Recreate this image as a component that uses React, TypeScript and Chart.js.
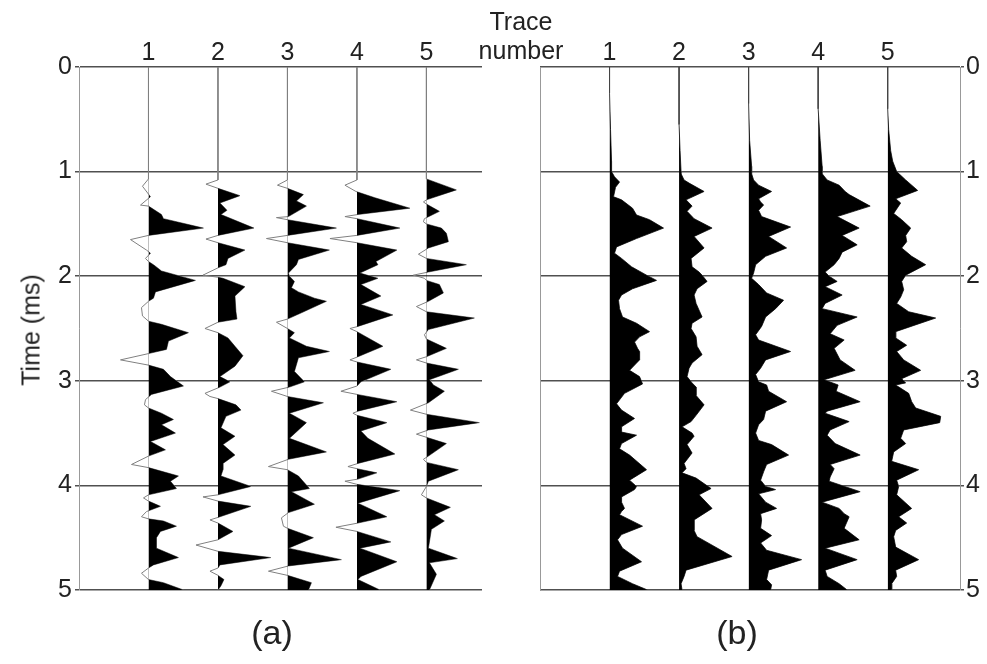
import React, { useEffect, useRef } from 'react';
import { Chart, registerables } from 'chart.js';

// ---------- data ----------
const TRACE_NUMBERS = [1, 2, 3, 4, 5];
const TRACE_LABELS = ['1', '2', '3', '4', '5'];
const TIME_MIN = 0;
const TIME_MAX = 5;
const AMP_PER_TRACE = 69.5; // amplitude units per trace spacing

// Panel (a): raw traces, [time (ms), amplitude]
const A1 = [[0,0],[1.07,0],[1.14,-6],[1.24,2],[1.32,-8],[1.33,0],[1.41,13],[1.45,15],[1.54,55],[1.61,0],[1.65,-18],[1.75,-2],[1.78,2],[1.83,-3],[1.86,0],[1.89,5],[1.95,13],[2.04,47],[2.15,7],[2.21,5],[2.24,0],[2.30,-7],[2.38,-6],[2.43,0],[2.46,13],[2.54,40],[2.62,20],[2.70,18],[2.74,0],[2.80,-28],[2.85,0],[2.89,15],[2.96,22],[3.05,35],[3.13,3],[3.18,-3],[3.23,-4],[3.26,0],[3.31,13],[3.37,25],[3.42,13],[3.50,27],[3.58,2],[3.66,17],[3.72,0],[3.80,-17],[3.83,0],[3.91,30],[3.96,22],[4.03,28],[4.09,0],[4.12,-5],[4.15,0],[4.20,12],[4.25,-2],[4.30,-7],[4.32,0],[4.34,15],[4.39,28],[4.44,12],[4.50,8],[4.60,8],[4.69,30],[4.76,5],[4.79,0],[4.84,-7],[4.90,0],[4.93,15],[5.0,35]];
const A2 = [[0,0],[1.08,0],[1.12,-12],[1.16,0],[1.23,22],[1.30,2],[1.37,9],[1.41,3],[1.54,36],[1.61,0],[1.645,-12],[1.68,0],[1.75,27],[1.83,10],[1.89,8],[1.92,0],[1.99,-15],[2.01,0],[2.02,5],[2.10,27],[2.19,17],[2.34,18],[2.41,19],[2.44,0],[2.50,-13],[2.54,0],[2.59,10],[2.67,17],[2.76,25],[2.86,17],[2.96,2],[3.01,12],[3.06,2],[3.12,-13],[3.15,-8],[3.17,0],[3.23,18],[3.28,23],[3.34,8],[3.45,3],[3.53,17],[3.61,5],[3.71,17],[3.79,5],[3.85,5],[3.91,3],[4.01,33],[4.09,0],[4.11,-15],[4.15,0],[4.20,33],[4.30,2],[4.33,-8],[4.36,0],[4.44,15],[4.52,0],[4.57,-22],[4.63,0],[4.69,53],[4.76,2],[4.79,0],[4.82,-8],[4.86,0],[4.90,6],[4.96,3],[5.0,0]];
const A3 = [[0,0],[1.08,0],[1.13,-10],[1.16,0],[1.22,16],[1.28,9],[1.33,19],[1.43,1],[1.44,-11],[1.46,0],[1.54,49],[1.61,0],[1.64,-21],[1.68,0],[1.75,42],[1.84,11],[1.89,9],[1.97,1],[2.00,2],[2.05,7],[2.11,4],[2.15,11],[2.21,27],[2.24,39],[2.35,14],[2.41,0],[2.44,-11],[2.50,0],[2.54,7],[2.59,2],[2.67,19],[2.72,42],[2.78,11],[2.91,7],[3.01,17],[3.06,2],[3.10,-16],[3.15,0],[3.21,36],[3.31,2],[3.40,19],[3.55,2],[3.68,39],[3.75,1],[3.82,-19],[3.85,0],[3.91,11],[4.03,22],[4.06,4],[4.18,27],[4.26,1],[4.31,-6],[4.39,-4],[4.41,0],[4.50,26],[4.60,1],[4.71,54],[4.77,1],[4.82,-19],[4.86,0],[4.93,24],[5.0,21]];
const A4 = [[0,0],[1.08,0],[1.13,-12],[1.19,-1],[1.25,18],[1.35,53],[1.41,1],[1.43,-12],[1.45,0],[1.54,43],[1.61,0],[1.64,-27],[1.68,0],[1.75,40],[1.86,19],[1.89,21],[1.97,3],[2.02,21],[2.08,4],[2.19,24],[2.27,4],[2.37,36],[2.48,1],[2.50,-7],[2.53,0],[2.67,26],[2.77,1],[2.80,-7],[2.82,0],[2.89,34],[3.01,4],[3.05,0],[3.10,-16],[3.13,0],[3.20,40],[3.29,1],[3.31,-4],[3.33,0],[3.40,30],[3.48,4],[3.55,11],[3.70,38],[3.79,1],[3.82,-9],[3.84,0],[3.88,20],[3.94,1],[3.96,-12],[3.99,0],[4.05,43],[4.17,1],[4.30,30],[4.36,1],[4.40,-21],[4.44,0],[4.54,34],[4.60,3],[4.73,40],[4.87,4],[4.90,1],[5.0,23]];
const A5 = [[0,0],[1.07,0],[1.175,30],[1.27,0],[1.29,-3],[1.31,0],[1.38,13],[1.45,-2],[1.48,-3],[1.50,0],[1.54,15],[1.59,20],[1.67,22],[1.73,2],[1.79,-8],[1.83,0],[1.89,40],[1.96,2],[1.99,-13],[2.02,-2],[2.04,0],[2.08,13],[2.16,17],[2.24,2],[2.29,-10],[2.34,0],[2.40,48],[2.51,2],[2.56,-2],[2.60,0],[2.69,20],[2.77,0],[2.80,-10],[2.83,0],[2.89,32],[2.99,3],[3.04,7],[3.10,18],[3.21,2],[3.28,-16],[3.32,0],[3.40,53],[3.47,2],[3.51,-10],[3.54,0],[3.60,20],[3.72,2],[3.75,-3],[3.78,0],[3.85,32],[3.96,2],[4.01,0],[4.09,-5],[4.12,0],[4.21,24],[4.28,8],[4.34,18],[4.42,5],[4.60,2],[4.70,31],[4.74,3],[4.85,10],[5.0,3]];

// Panel (b): envelope traces, [time (ms), amplitude]
const B1 = [[0,0],[0.25,0],[0.6,1],[0.9,2],[1.0,2],[1.05,5],[1.10,10],[1.15,6],[1.24,4],[1.27,12],[1.35,23],[1.415,27],[1.46,40],[1.54,54],[1.64,27],[1.72,7],[1.78,5],[1.83,12],[1.91,22],[1.99,37],[2.04,47],[2.12,23],[2.18,12],[2.23,9],[2.31,10],[2.39,13],[2.45,27],[2.53,40],[2.58,30],[2.63,25],[2.69,28],[2.72,30],[2.80,30],[2.83,27],[2.90,20],[2.96,30],[3.03,33],[3.12,15],[3.22,7],[3.28,12],[3.36,25],[3.44,12],[3.49,12],[3.52,27],[3.60,12],[3.65,10],[3.71,20],[3.85,37],[3.95,20],[4.01,27],[4.04,25],[4.11,12],[4.16,12],[4.22,15],[4.25,12],[4.28,10],[4.39,33],[4.47,12],[4.52,8],[4.60,13],[4.73,32],[4.82,10],[4.87,8],[4.94,23],[5.0,38]];
const B2 = [[0,0],[0.55,0],[0.8,1],[1.0,2],[1.02,2],[1.08,5],[1.11,10],[1.19,25],[1.27,7],[1.33,13],[1.38,8],[1.45,15],[1.54,33],[1.62,15],[1.73,25],[1.83,12],[1.91,13],[1.96,20],[1.99,23],[2.05,28],[2.12,18],[2.18,15],[2.26,17],[2.39,23],[2.45,13],[2.50,12],[2.58,17],[2.67,18],[2.75,23],[2.83,13],[2.88,10],[2.96,8],[3.02,13],[3.06,17],[3.14,17],[3.23,25],[3.33,17],[3.39,12],[3.44,3],[3.50,13],[3.53,15],[3.61,8],[3.69,13],[3.79,5],[3.84,7],[3.88,3],[3.93,17],[4.03,32],[4.09,20],[4.22,33],[4.33,15],[4.43,15],[4.49,18],[4.68,53],[4.81,7],[4.87,5],[4.94,2],[5.0,3]];
const B3 = [[0,0],[0.35,0],[0.7,1],[0.95,3],[1.02,3],[1.08,5],[1.13,10],[1.19,23],[1.26,10],[1.29,12],[1.32,15],[1.37,10],[1.43,13],[1.53,42],[1.62,20],[1.73,38],[1.81,17],[1.89,7],[1.97,5],[2.02,3],[2.08,10],[2.16,18],[2.23,35],[2.31,27],[2.39,17],[2.48,13],[2.56,7],[2.61,10],[2.72,42],[2.80,17],[2.88,12],[2.94,7],[3.01,10],[3.04,18],[3.10,20],[3.20,38],[3.29,17],[3.37,15],[3.42,10],[3.50,7],[3.57,10],[3.61,23],[3.71,40],[3.80,18],[3.87,15],[3.95,12],[4.01,17],[4.04,27],[4.08,10],[4.16,17],[4.22,28],[4.27,12],[4.33,13],[4.41,12],[4.48,23],[4.55,12],[4.62,18],[4.71,53],[4.81,20],[4.90,18],[4.95,23],[5.0,22]];
const B4 = [[0,0],[0.4,0],[0.7,2],[0.95,4],[1.02,4],[1.08,9],[1.13,21],[1.19,27],[1.22,31],[1.33,52],[1.43,19],[1.54,41],[1.61,24],[1.70,39],[1.77,24],[1.83,21],[1.89,16],[1.96,7],[2.00,11],[2.05,19],[2.10,7],[2.18,24],[2.26,7],[2.31,4],[2.39,39],[2.47,19],[2.55,12],[2.61,26],[2.69,16],[2.80,22],[2.90,37],[2.99,6],[3.04,20],[3.10,18],[3.20,42],[3.29,9],[3.31,7],[3.39,31],[3.47,12],[3.52,9],[3.60,17],[3.71,42],[3.80,12],[3.84,16],[3.92,12],[3.96,11],[4.06,42],[4.16,4],[4.22,21],[4.27,26],[4.30,31],[4.41,26],[4.52,41],[4.60,7],[4.71,39],[4.81,7],[4.87,9],[4.94,21],[5.0,29]];
const B5 = [[0,0],[0.4,0],[0.6,1],[0.8,3],[0.9,5],[1.0,9],[1.08,18],[1.18,30],[1.26,8],[1.30,13],[1.40,6],[1.46,14],[1.54,23],[1.61,18],[1.67,19],[1.73,14],[1.81,24],[1.89,38],[1.99,18],[2.05,14],[2.13,16],[2.20,13],[2.26,9],[2.34,21],[2.40,48],[2.53,8],[2.59,8],[2.66,19],[2.72,9],[2.80,16],[2.90,33],[2.98,14],[3.02,18],[3.04,8],[3.12,21],[3.20,24],[3.26,28],[3.34,53],[3.40,52],[3.47,16],[3.55,13],[3.60,18],[3.68,6],[3.77,4],[3.85,31],[3.95,9],[4.01,11],[4.09,9],[4.22,24],[4.30,11],[4.36,19],[4.43,8],[4.49,6],[4.59,8],[4.71,31],[4.81,8],[4.87,9],[4.94,4],[5.0,4]];

const TRACES_A = [A1, A2, A3, A4, A5];
const TRACES_B = [B1, B2, B3, B4, B5];

// ---------- chart helpers ----------
const FONT = 'Liberation Sans, Arial, Helvetica, sans-serif';

const positiveClip = {
  id: 'positiveClip',
  beforeDatasetDraw(chart: any, args: any) {
    const ds: any = chart.data.datasets[args.index];
    if (ds.clipBase === undefined) return;
    const px = chart.scales.x.getPixelForValue(ds.clipBase);
    const ctx = chart.ctx;
    ctx.save();
    ctx.beginPath();
    ctx.rect(px, 0, chart.width - px, chart.height);
    ctx.clip();
  },
  afterDatasetDraw(chart: any, args: any) {
    const ds: any = chart.data.datasets[args.index];
    if (ds.clipBase === undefined) return;
    chart.ctx.restore();
  },
};
Chart.register(positiveClip);
Chart.register(...registerables);
Chart.defaults.font.family = FONT;

function traceData(tr: number[][], k: number) {
  return tr.map(([t, a]) => ({ x: k + a / AMP_PER_TRACE, y: t }));
}

function buildDatasets(traces: number[][][], lineColor: string) {
  const fills = traces.map((tr, i) => ({
    data: traceData(tr, TRACE_NUMBERS[i]),
    borderWidth: 0,
    pointRadius: 0,
    backgroundColor: '#000',
    fill: { value: TRACE_NUMBERS[i] },
    clipBase: TRACE_NUMBERS[i],
  }));
  const lines = traces.map((tr, i) => ({
    data: traceData(tr, TRACE_NUMBERS[i]),
    borderWidth: 1,
    borderColor: lineColor,
    pointRadius: 0,
    fill: false,
  }));
  return [...fills, ...lines];
}

function xScale(max: number) {
  return {
    type: 'linear',
    position: 'top',
    min: 0,
    max,
    afterBuildTicks: (s: any) => {
      s.ticks = TRACE_NUMBERS.map((v) => ({ value: v }));
    },
    ticks: {
      autoSkip: false,
      maxRotation: 0,
      padding: -9,
      color: '#222',
      font: { size: 25, family: FONT },
      callback: (v: any) => TRACE_LABELS[TRACE_NUMBERS.indexOf(Number(v))] ?? '',
    },
    grid: { display: false },
    border: { display: false },
    afterFit: (s: any) => {
      s.height = 67;
    },
  };
}

function timeScale(position: string, width: number) {
  return {
    type: 'linear',
    position,
    min: TIME_MIN,
    max: TIME_MAX,
    reverse: true,
    ticks: { stepSize: 1, padding: position === 'left' ? 3 : 2, color: '#222', font: { size: 25, family: FONT } },
    grid: { color: '#505050', lineWidth: 1.5, tickLength: 4 },
    border: { color: '#999', width: 1 },
    afterFit: (s: any) => {
      s.width = width;
    },
  };
}

function baseOptions() {
  return {
    animation: false,
    responsive: false,
    maintainAspectRatio: false,
    events: [],
    indexAxis: 'y',
    elements: { line: { tension: 0 } },
    plugins: { legend: { display: false }, tooltip: { enabled: false }, title: { display: false } },
  };
}

function ChartCanvas({ config, style, width, height }: any) {
  const ref = useRef<HTMLCanvasElement>(null);
  useEffect(() => {
    const chart = new Chart(ref.current as HTMLCanvasElement, config());
    return () => chart.destroy();
  }, []);
  return <canvas ref={ref} width={width} height={height} style={{ position: 'absolute', ...style }} />;
}

const configA = () => ({
  type: 'line',
  data: { datasets: buildDatasets(TRACES_A, '#808080') },
  options: {
    ...baseOptions(),
    layout: { padding: { top: 0, right: 18, bottom: 30, left: 0 } },
    scales: {
      x: xScale(5.8),
      y: timeScale('left', 49),
    },
  },
});

const configB = () => ({
  type: 'line',
  data: { datasets: buildDatasets(TRACES_B, '#444') },
  options: {
    ...baseOptions(),
    layout: { padding: { top: 0, right: 0, bottom: 30, left: 0 } },
    scales: {
      x: xScale(6.04),
      y: timeScale('right', 27),
      yL: {
        type: 'linear',
        position: 'left',
        min: 0,
        max: 1,
        ticks: { display: false },
        grid: { display: false },
        border: { color: '#999', width: 1 },
        afterFit: (s: any) => {
          s.width = 20;
        },
      },
    },
  },
});

const textStyle: React.CSSProperties = {
  position: 'absolute',
  fontFamily: FONT,
  color: '#222',
  whiteSpace: 'nowrap',
};

export default function App() {
  return (
    <div style={{ position: 'absolute', left: 0, top: 0, width: 987, height: 664, background: '#fff', overflow: 'hidden' }}>
      <ChartCanvas config={configA} width={470} height={620} style={{ left: 30, top: 0 }} />
      <ChartCanvas config={configB} width={467} height={620} style={{ left: 520, top: 0 }} />
      <div style={{ ...textStyle, left: 460, top: 7, width: 122, textAlign: 'center', fontSize: 25, lineHeight: '29px' }}>
        Trace
        <br />
        number
      </div>
      <div style={{ ...textStyle, left: 31, top: 330, fontSize: 25, transform: 'translate(-50%, -50%) rotate(-90deg)' }}>
        Time (ms)
      </div>
      <div style={{ ...textStyle, left: 272, top: 632, fontSize: 34, transform: 'translate(-50%, -50%)' }}>(a)</div>
      <div style={{ ...textStyle, left: 737, top: 632, fontSize: 34, transform: 'translate(-50%, -50%)' }}>(b)</div>
    </div>
  );
}
